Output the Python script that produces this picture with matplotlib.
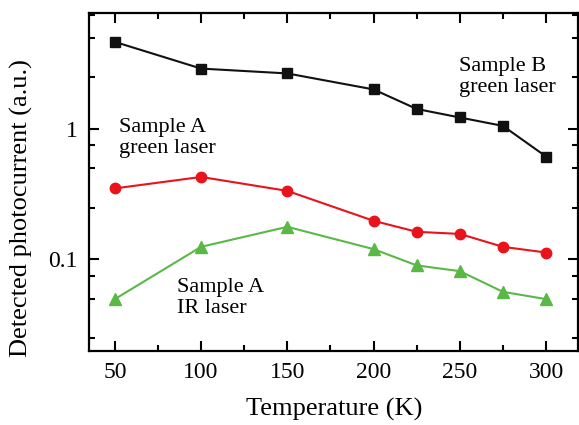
import numpy as np
import matplotlib
matplotlib.use("Agg")
import matplotlib.pyplot as plt
from matplotlib.ticker import FixedLocator, NullFormatter

plt.rcParams["font.family"] = ["Liberation Serif", "DejaVu Serif"]

temp = [50, 100, 150, 200, 225, 250, 275, 300]
sampleB_green = [4.68, 2.92, 2.68, 2.02, 1.43, 1.23, 1.06, 0.617]
sampleA_green = [0.351, 0.430, 0.336, 0.198, 0.163, 0.157, 0.125, 0.113]
sampleA_ir = [0.0496, 0.125, 0.178, 0.120, 0.090, 0.0813, 0.0564, 0.0496]

fig = plt.figure(figsize=(5.79, 4.25), dpi=100)
ax = fig.add_axes([0.1537, 0.174, 0.8445, 0.7954])

ax.plot(temp, sampleB_green, color="#111111", marker="s", markersize=6.7, linewidth=1.5)
ax.plot(temp, sampleA_green, color="#e8131b", marker="o", markersize=7.5, linewidth=1.5)
ax.plot(temp, sampleA_ir, color="#5ab946", marker="^", markersize=8.5, linewidth=1.5)

ax.set_yscale("log")
ax.set_xlim(35, 318.5)
ax.set_ylim(0.0198, 7.8)

ax.xaxis.set_major_locator(FixedLocator([50, 100, 150, 200, 250, 300]))
ax.xaxis.set_minor_locator(FixedLocator([75, 125, 175, 225, 275]))
ax.yaxis.set_major_locator(FixedLocator([0.1, 1]))
ax.yaxis.set_minor_locator(FixedLocator([0.025, 0.05, 0.075, 0.25, 0.5, 0.75, 2.5, 5, 7.5]))
ax.yaxis.set_minor_formatter(NullFormatter())
ax.set_yticklabels(["0.1", "1"])

ax.tick_params(which="both", direction="in", top=True, right=True, width=1.5, labelsize=17)
ax.tick_params(which="major", length=7, pad=8)
ax.tick_params(which="minor", length=4)
for s in ax.spines.values():
    s.set_linewidth(1.6)

ax.set_xlabel("Temperature (K)", fontsize=19)
ax.set_ylabel("Detected photocurrent (a.u.)", fontsize=19)
ax.xaxis.set_label_coords(0.502, -0.14)
ax.yaxis.set_label_coords(-0.115, 0.423)

ax.text(52.3, 0.853, "Sample A\ngreen laser", fontsize=16, va="center", ha="left", linespacing=1.1)
ax.text(249.8, 2.51, "Sample B\ngreen laser", fontsize=16, va="center", ha="left", linespacing=1.1)
ax.text(85.9, 0.0505, "Sample A\nIR laser", fontsize=16, va="center", ha="left", linespacing=1.1)

fig.savefig("out.png", dpi=100)
